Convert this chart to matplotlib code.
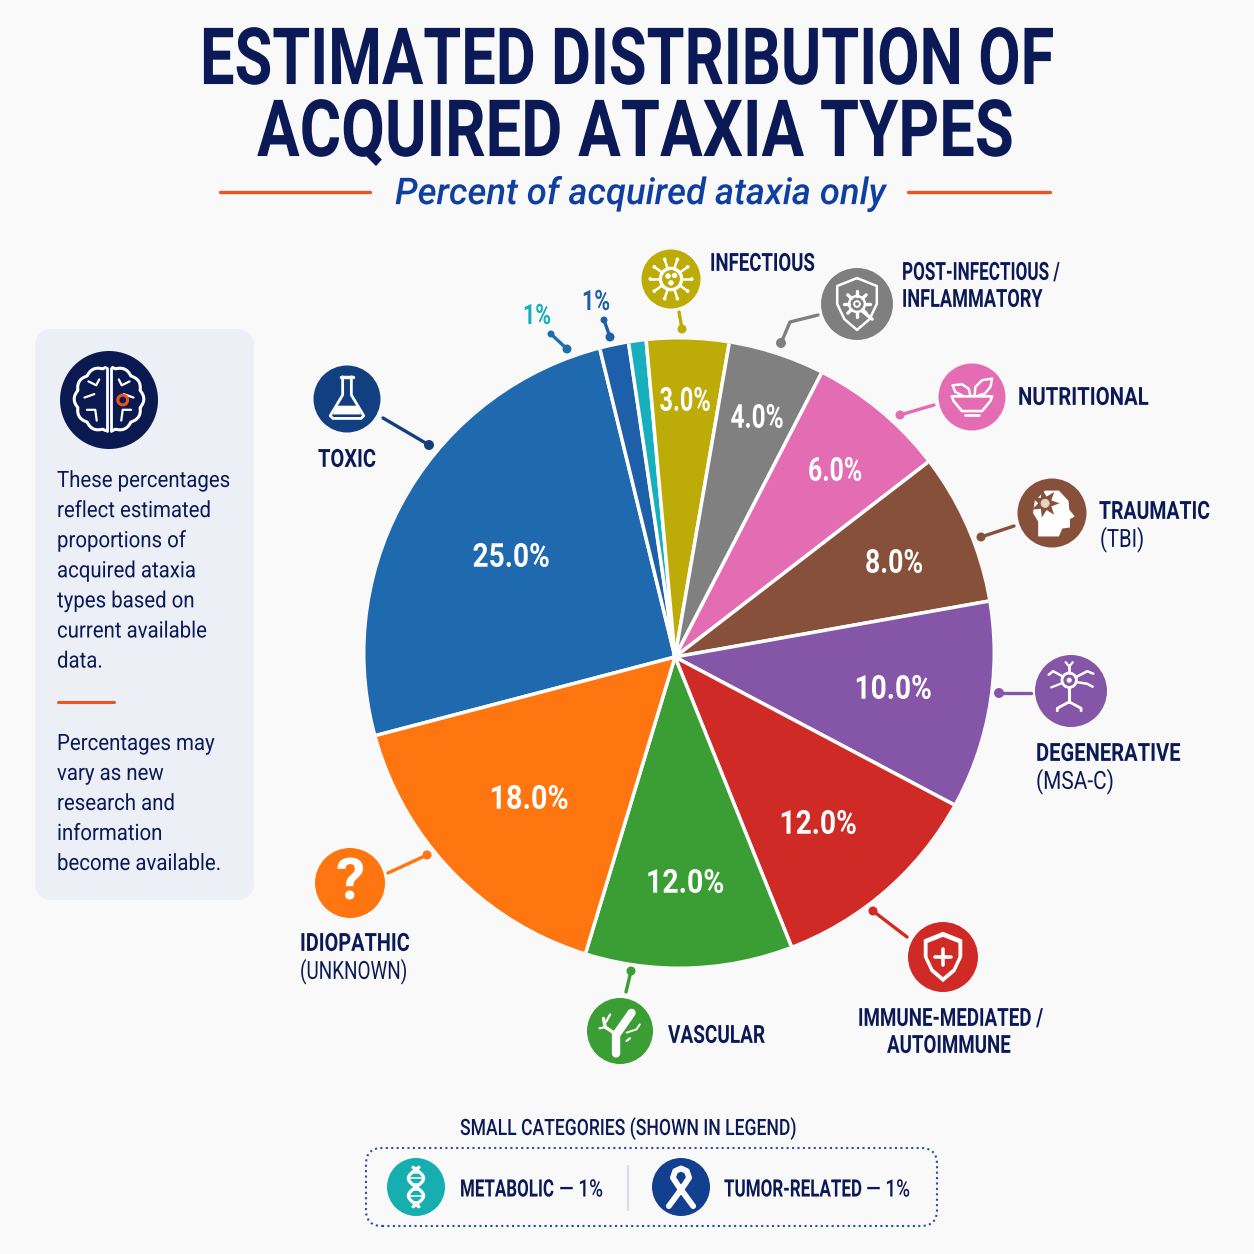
import numpy as np
import matplotlib
matplotlib.use("Agg")
import matplotlib.pyplot as plt
from matplotlib.patches import Circle, FancyBboxPatch, Polygon
from matplotlib.patheffects import AbstractPathEffect
from matplotlib.transforms import Affine2D

# ---------- data ----------
categories = ["Toxic", "Tumor-related", "Metabolic", "Infectious", "Post-infectious / Inflammatory",
              "Nutritional", "Traumatic (TBI)", "Degenerative (MSA-C)", "Immune-mediated / Autoimmune",
              "Vascular", "Idiopathic (Unknown)"]
stated_percent = [25, 1, 1, 3, 4, 6, 8, 10, 12, 12, 18]
# slice sizes as they are actually drawn in the picture (differ from the printed percentages)
drawn_share = [91.0, 5.3, 3.2, 15.0, 17.5, 25.1, 27.5, 38.0, 40.2, 38.7, 58.5]
colors = ["#1F69AE", "#1E5FA9", "#17AEBE", "#BDAB08", "#808080", "#E36CB2",
          "#87503B", "#8556A8", "#D02A26", "#3A9E34", "#FF7611"]
note_one = ["These percentages", "reflect estimated", "proportions of", "acquired ataxia",
            "types based on", "current available", "data."]
note_two = ["Percentages may", "vary as new", "research and", "information", "become available."]

W = 1254
NAVY = "#0B1A56"
BG = "#F9F9FA"
FONT = "Roboto"

fig = plt.figure(figsize=(12.54, 12.54), dpi=100, facecolor=BG)
ax = fig.add_axes([0, 0, 1, 1])
ax.set_xlim(0, W)
ax.set_ylim(0, W)

class Squeeze(AbstractPathEffect):
    """Horizontally condense a text about its anchor, keeping it a real text."""
    def __init__(self, sx, x0):
        super().__init__()
        self.sx, self.x0 = sx, x0
    def draw_path(self, renderer, gc, tpath, affine, rgbFace=None):
        aff = affine + Affine2D().translate(-self.x0, 0).scale(self.sx, 1).translate(self.x0, 0)
        renderer.draw_path(gc, tpath, aff, rgbFace)

def Y(y):
    return W - y

def T(x, y, s, px, width=None, sx=None, ha="left", color=NAVY, weight="bold", family=FONT, style="normal"):
    t = ax.text(x, Y(y + 0.355 * px), s, fontsize=px * 0.72, ha=ha, va="baseline", color=color,
                fontweight=weight, family=family, fontstyle=style, zorder=10)
    if width is not None:
        sx = width / t.get_window_extent(fig.canvas.get_renderer()).width
    if sx is not None:
        t.set_path_effects([Squeeze(sx, x)])
    return sx

def L(pts, color, lw=2.5, z=5, **kw):
    p = np.array(pts, float)
    ax.plot(p[:, 0], W - p[:, 1], color=color, lw=lw, solid_capstyle="round", zorder=z, **kw)

def dot(x, y, r, color):
    ax.add_patch(Circle((x, Y(y)), r, color=color, zorder=6, lw=0))

# ---------- pie ----------
wedges, _ = ax.pie(drawn_share, colors=colors, startangle=194.7, counterclock=False,
                   center=(675, Y(657)), radius=345, frame=True,
                   wedgeprops=dict(edgecolor="white", linewidth=2.5))
ax.set_xlim(0, W)
ax.set_ylim(0, W)
ax.set_aspect("equal")
ax.axis("off")
rim = Circle((679, Y(653)), 313.5, transform=ax.transData)
for w in wedges:
    w.set_clip_on(True)
    w.set_clip_path(rim)

label_pos = [(511, 555), None, None, (685, 399), (757, 416), (835, 469), (894, 561),
             (893, 687), (818, 822), (685, 881), (529, 797)]
label_width = [77, 0, 0, 51, 53, 54, 58, 77, 77, 78, 79]
for v, pos, wd in zip(stated_percent, label_pos, label_width):
    if pos:
        T(pos[0], pos[1], f"{v:.1f}%", 33, width=wd, ha="center", color="white")

# ---------- title ----------
T(627.5, 56, "ESTIMATED DISTRIBUTION OF", 79, width=855, ha="center")
T(635.5, 128, "ACQUIRED ATAXIA TYPES", 79, width=757, ha="center")
T(640.5, 191, "Percent of acquired ataxia only", 37, width=491, ha="center", color="#0F3FA0",
  style="italic", weight="medium")
L([(220, 192), (370, 192)], "#E8561E", 2.4)
L([(908, 192), (1050, 192)], "#E8561E", 2.4)

# ---------- note panel ----------
ax.add_patch(FancyBboxPatch((49, Y(886)), 191, 543, boxstyle="round,pad=14,rounding_size=18",
                            fc="#ECEFF6", ec="none", zorder=1))
k = T(57, 479, note_one[0], 22.5, width=173, weight="normal")
for i, s in enumerate(note_one[1:], 1):
    T(57, 479 + 30.1 * i, s, 22.5, sx=k, weight="normal")
L([(58, 702), (114, 702)], "#E8561E", 2.2)
for i, s in enumerate(note_two):
    T(57, 742 + 30 * i, s, 22.5, sx=k, weight="normal")

# ---------- icon helpers ----------
def disc(cx, cy, r, color):
    ax.add_patch(Circle((cx, Y(cy)), r, color=color, zorder=7, lw=0))

def g_line(cx, cy, r, pts, lw=2.0, color="white", closed=False):
    p = np.array(pts, float)
    if closed:
        p = np.vstack([p, p[0]])
    ax.plot(cx + r * p[:, 0], Y(cy) + r * p[:, 1], color=color, lw=lw, zorder=8,
            solid_capstyle="round", solid_joinstyle="round")

def g_fill(cx, cy, r, pts, color="white"):
    p = np.array(pts, float)
    ax.add_patch(Polygon(np.c_[cx + r * p[:, 0], Y(cy) + r * p[:, 1]], closed=True, fc=color, ec="none", zorder=8))

def g_ring(cx, cy, r, x, y, rad, lw=2.0, fill="none", color="white"):
    ax.add_patch(Circle((cx + r * x, Y(cy) + r * y), r * rad, fc=fill, ec=color, lw=lw, zorder=9))

SHIELD = [(0, .72), (.55, .5), (.55, 0), (.35, -.42), (0, -.72), (-.35, -.42), (-.55, 0), (-.55, .5)]

def flask(cx, cy, r):
    g_line(cx, cy, r, [(-.18, .66), (.18, .66)], 2.5)
    g_line(cx, cy, r, [(-.13, .66), (-.13, .12), (-.5, -.5), (-.42, -.58), (.42, -.58), (.5, -.5), (.13, .12), (.13, .66)], 2.0)
    g_fill(cx, cy, r, [(-.3, -.2), (.3, -.2), (.42, -.46), (-.42, -.46)])

def virus(cx, cy, r):
    for a in np.arange(0, 360, 36):
        c, s = np.cos(np.deg2rad(a)), np.sin(np.deg2rad(a))
        g_line(cx, cy, r, [(.4 * c, .4 * s), (.68 * c, .68 * s)], 1.8)
        g_ring(cx, cy, r, .7 * c, .7 * s, .05, 0.5, "white")
    g_ring(cx, cy, r, 0, 0, .36, 2.4)
    for x, y in [(-.1, .1), (.12, .12), (0, -.13)]:
        g_ring(cx, cy, r, x, y, .08, 0.5, "white")

def shield_gear(cx, cy, r):
    g_line(cx, cy, r, SHIELD, 1.8, closed=True)
    for a in np.arange(0, 360, 45):
        c, s = np.cos(np.deg2rad(a)), np.sin(np.deg2rad(a))
        g_line(cx, cy, r, [(.22 * c, .22 * s), (.36 * c, .36 * s)], 2.4)
    g_ring(cx, cy, r, 0, 0, .22, 1.8)
    g_ring(cx, cy, r, 0, 0, .08, 1.4)
    g_line(cx, cy, r, [(.15, -.2), (.42, -.42)], 2.4)

def bowl(cx, cy, r):
    g_line(cx, cy, r, [(-.6, .02), (.6, .02), (.55, -.12), (.3, -.42), (-.3, -.42), (-.55, -.12)], 1.9, closed=True)
    g_line(cx, cy, r, [(-.2, -.55), (.2, -.55)], 2.0)
    g_line(cx, cy, r, [(-.05, .05), (-.1, .25), (-.3, .38), (-.58, .35), (-.5, .15), (-.3, .05)], 1.8)
    g_line(cx, cy, r, [(.08, .05), (.1, .3), (.3, .5), (.6, .55), (.55, .3), (.38, .1), (.2, .05)], 1.8)

def head(cx, cy, r):
    g_fill(cx, cy, r, [(-.4, -.68), (-.4, -.25), (-.55, 0), (-.5, .35), (-.2, .65), (.2, .65), (.48, .35), (.5, .1),
                       (.66, -.1), (.52, -.18), (.52, -.42), (.3, -.45), (.2, -.68)])
    n = 14
    a = np.linspace(0, 2 * np.pi, n, endpoint=False)
    rr = np.where(np.arange(n) % 2 == 0, .42, .2)
    g_fill(cx, cy, r, np.c_[-.2 + rr * np.cos(a), .28 + rr * np.sin(a)], "#87503B")
    g_ring(cx, cy, r, -.2, .28, .12, 0.5, "#E9D3C0", "#E9D3C0")

def neuron(cx, cy, r):
    g_ring(cx, cy, r, -.05, .3, .2, 2.0)
    g_ring(cx, cy, r, -.05, .3, .06, 0.5, "white")
    g_line(cx, cy, r, [(-.05, .1), (-.05, -.3)], 2.2)
    g_line(cx, cy, r, [(-.38, -.55), (-.38, -.48), (-.05, -.3), (.28, -.48), (.28, -.55)], 2.0)
    g_line(cx, cy, r, [(-.05, .5), (-.05, .72)], 2.0)
    g_line(cx, cy, r, [(-.15, .8), (-.05, .68), (.05, .8)], 1.6)
    g_line(cx, cy, r, [(.13, .38), (.45, .55), (.62, .48)], 1.8)
    g_line(cx, cy, r, [(.15, .25), (.45, .2), (.6, .12)], 1.8)
    g_line(cx, cy, r, [(-.22, .4), (-.5, .55), (-.62, .45)], 1.8)
    g_line(cx, cy, r, [(-.24, .22), (-.55, .1)], 1.6)

def med_shield(cx, cy, r):
    g_fill(cx, cy, r, SHIELD)
    g_fill(cx, cy, r, [(x * .8, y * .8) for x, y in SHIELD], "#D02A26")
    g_line(cx, cy, r, [(-.24, 0), (.24, 0)], 2.6)
    g_line(cx, cy, r, [(0, -.24), (0, .24)], 2.6)

def vessel(cx, cy, r):
    g_line(cx, cy, r, [(-.12, -.68), (-.12, -.12), (.35, .55)], 6.0)
    g_line(cx, cy, r, [(-.12, -.1), (-.45, .12), (-.5, .38)], 2.4)
    g_line(cx, cy, r, [(-.45, .12), (-.62, .08)], 1.6)
    g_line(cx, cy, r, [(-.42, .28), (-.3, .5)], 1.6)
    g_line(cx, cy, r, [(.2, -.05), (.5, .05), (.6, .2)], 1.4)
    g_line(cx, cy, r, [(.2, -.3), (.3, -.22)], 1.6)

def dna(cx, cy, r):
    t = np.linspace(-.68, .68, 60)
    g_line(cx, cy, r, np.c_[.26 * np.sin(t * 5.2), t], 2.4)
    g_line(cx, cy, r, np.c_[-.26 * np.sin(t * 5.2), t], 2.4)
    for y in [-.5, -.3, -.1, .1, .3, .5]:
        v = .26 * abs(np.sin(y * 5.2))
        g_line(cx, cy, r, [(-v, y), (v, y)], 1.1)

def ribbon(cx, cy, r):
    g_line(cx, cy, r, [(-.42, -.66), (.08, .02), (.28, .32), (.2, .55), (0, .64), (-.2, .55), (-.28, .32), (-.08, .02), (.42, -.66)], 4.2)

def question(cx, cy, r):
    ax.text(cx, Y(cy) - 1, "?", color="white", fontsize=42, fontweight="bold", family=FONT,
            ha="center", va="center", zorder=9)

def brain(cx, cy, r):
    for sign in (-1, 1):
        t = np.linspace(-np.pi / 2 + .05, np.pi / 2 - .05, 80)
        rad = .62 + .05 * np.abs(np.cos(t * 5.5))
        x = sign * (.04 + rad * np.cos(t))
        y = .02 + rad * np.sin(t)
        g_line(cx, cy, r, np.c_[x, y], 2.2)
        g_line(cx, cy, r, [(sign * .04, .66), (sign * .04, -.64)], 2.0)
        g_line(cx, cy, r, [(sign * .42, .38), (sign * .26, .3), (sign * .2, .42)], 1.6)
        g_line(cx, cy, r, [(sign * .5, .05), (sign * .3, .12)], 1.6)
        g_line(cx, cy, r, [(sign * .45, -.2), (sign * .28, -.2), (sign * .25, -.42)], 1.6)
    g_ring(cx, cy, r, .28, 0, .1, 2.2, "none", "#E8561E")

# ---------- callouts ----------
disc(347, 399, 33.5, "#123F80"); flask(347, 399, 33.5)
L([(383, 418), (429, 445)], "#123F80", 2.4); dot(429, 445, 5, "#123F80")
T(347, 458, "TOXIC", 25, width=58, ha="center")

T(537, 314, "1%", 28, width=28, ha="center", color="#17AEBE")
L([(551, 334), (567, 349)], "#1E6FAE", 2.4); dot(551, 334, 3.5, "#1E6FAE"); dot(567, 349, 4.5, "#1E6FAE")
T(596, 300, "1%", 28, width=28, ha="center", color="#1E5FA9")
L([(604, 320), (610, 337)], "#1E5FA9", 2.4); dot(604, 320, 3.5, "#1E5FA9"); dot(610, 337, 4.5, "#1E5FA9")

disc(671, 279, 29.5, "#BDAB08"); virus(671, 279, 29.5)
L([(679, 312), (682, 329)], "#BDAB08", 2.4); dot(682, 329, 4.5, "#BDAB08")
T(710, 262, "INFECTIOUS", 25, width=105)

disc(857, 304, 36, "#7F7F7F"); shield_gear(857, 304, 36)
L([(818, 315), (790, 322), (781, 343)], "#7F7F7F", 2.4); dot(781, 343, 5, "#7F7F7F")
T(902, 271, "POST-INFECTIOUS /", 25, width=158)
T(902, 298, "INFLAMMATORY", 25, width=141)

disc(972, 397, 33.5, "#E36CB2"); bowl(972, 397, 33.5)
L([(934, 405), (900, 415)], "#E36CB2", 2.4); dot(900, 415, 4.5, "#E36CB2")
T(1018, 396, "NUTRITIONAL", 25, width=131)

disc(1052, 513, 34.5, "#87503B"); head(1052, 513, 34.5)
L([(1014, 526), (981, 537)], "#87503B", 2.4); dot(981, 537, 4.5, "#87503B")
T(1099, 510, "TRAUMATIC", 25, width=111)
T(1100, 538, "(TBI)", 25, width=44, weight="normal")

disc(1071, 691, 36, "#8556A8"); neuron(1071, 691, 36)
L([(1031, 693), (999, 693)], "#8556A8", 2.4); dot(999, 693, 5, "#8556A8")
T(1036, 752, "DEGENERATIVE", 25, width=145)
T(1036, 780, "(MSA-C)", 25, width=78, weight="normal")

disc(943, 957, 35, "#D02A26"); med_shield(943, 957, 35)
L([(907, 937), (873, 911)], "#D02A26", 2.4); dot(873, 911, 4.5, "#D02A26")
T(951, 1017, "IMMUNE-MEDIATED /", 25, width=186, ha="center")
T(949, 1044, "AUTOIMMUNE", 25, width=124, ha="center")

disc(620, 1031, 33, "#3A9E34"); vessel(620, 1031, 33)
L([(626, 992), (631, 971)], "#3A9E34", 2.4); dot(631, 971, 4.5, "#3A9E34")
T(668, 1034, "VASCULAR", 25, width=97)

disc(350, 883, 35, "#FF7611"); question(350, 883, 35)
L([(388, 873), (427, 855)], "#FF7611", 2.4); dot(427, 855, 4.5, "#FF7611")
T(300, 942, "IDIOPATHIC", 25, width=110)
T(300, 970, "(UNKNOWN)", 25, width=107, weight="normal")

disc(109, 400, 49, "#0A1A50"); brain(109, 400, 49)

# ---------- legend ----------
T(628, 1127, "SMALL CATEGORIES (SHOWN IN LEGEND)", 22.5, width=336, ha="center", weight="medium")
ax.add_patch(FancyBboxPatch((376, Y(1216)), 551, 58, boxstyle="round,pad=10,rounding_size=16",
                            fc="none", ec="#2D4DA8", lw=1.5, ls=(0, (1, 1.6)), zorder=3))
disc(416, 1187, 29, "#17AEB0"); dna(416, 1187, 29)
T(554, 1188, "METABOLIC", 24, width=94, ha="right")
T(559, 1188, "— 1%", 24, width=44, weight="medium")
L([(628, 1166), (628, 1210)], "#D9DCE3", 1.6)
disc(681, 1187, 29, "#123F8E"); ribbon(681, 1187, 29)
T(862, 1188, "TUMOR-RELATED", 24, width=138, ha="right")
T(866, 1188, "— 1%", 24, width=44, weight="medium")

fig.savefig("out.png", dpi=100, facecolor=BG)
